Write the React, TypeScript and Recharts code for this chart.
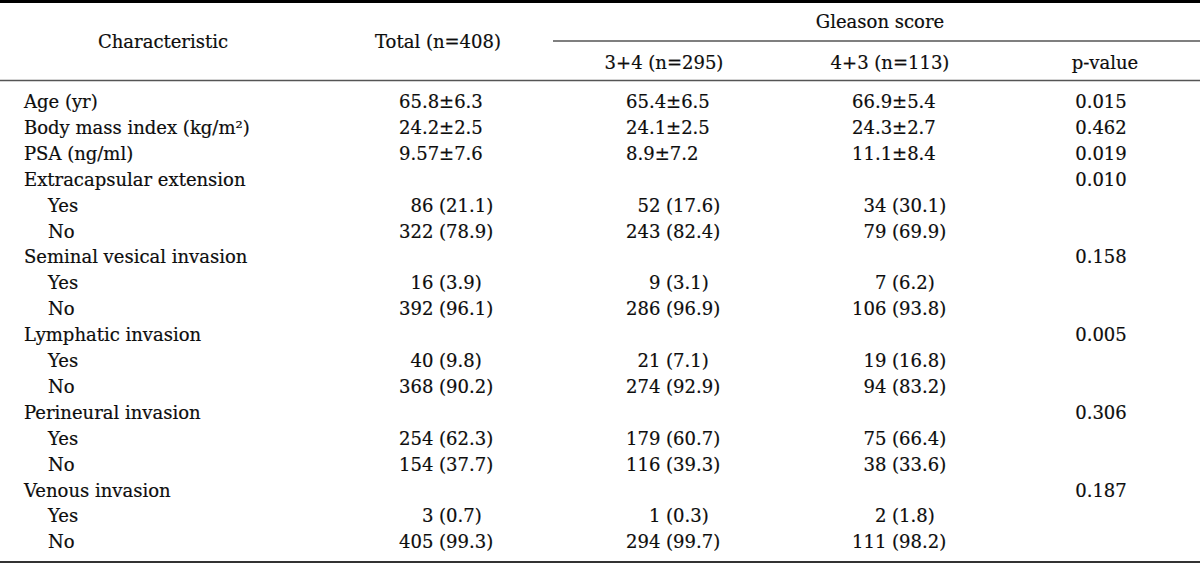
import { ReferenceLine, Scatter, ScatterChart, XAxis, YAxis } from "recharts";

// rows of the table, top to bottom
const rowLabels = [
  "Age (yr)",
  "Body mass index (kg/m²)",
  "PSA (ng/ml)",
  "Extracapsular extension",
  "Yes",
  "No",
  "Seminal vesical invasion",
  "Yes",
  "No",
  "Lymphatic invasion",
  "Yes",
  "No",
  "Perineural invasion",
  "Yes",
  "No",
  "Venous invasion",
  "Yes",
  "No",
];

const totalValues = [
  "65.8±6.3", "24.2±2.5", "9.57±7.6",
  "", "86 (21.1)", "322 (78.9)",
  "", "16 (3.9)", "392 (96.1)",
  "", "40 (9.8)", "368 (90.2)",
  "", "254 (62.3)", "154 (37.7)",
  "", "3 (0.7)", "405 (99.3)",
];

const gleason34Values = [
  "65.4±6.5", "24.1±2.5", "8.9±7.2",
  "", "52 (17.6)", "243 (82.4)",
  "", "9 (3.1)", "286 (96.9)",
  "", "21 (7.1)", "274 (92.9)",
  "", "179 (60.7)", "116 (39.3)",
  "", "1 (0.3)", "294 (99.7)",
];

const gleason43Values = [
  "66.9±5.4", "24.3±2.7", "11.1±8.4",
  "", "34 (30.1)", "79 (69.9)",
  "", "7 (6.2)", "106 (93.8)",
  "", "19 (16.8)", "94 (83.2)",
  "", "75 (66.4)", "38 (33.6)",
  "", "2 (1.8)", "111 (98.2)",
];

const pValues = [
  "0.015", "0.462", "0.019",
  "0.010", "", "",
  "0.158", "", "",
  "0.005", "", "",
  "0.306", "", "",
  "0.187", "", "",
];

const headerTop = ["Characteristic", "Total (n=408)"];
const groupHeader = "Gleason score";
const headerSub = ["3+4 (n=295)", "4+3 (n=113)", "p-value"];

// layout (x in px, y in row units, row 0 = "Age")
const WIDTH = 1200;
const HEIGHT = 563;
const ROW_PITCH = 25.9;
const FIRST_BASELINE = 108;
const Y_DOMAIN = [-FIRST_BASELINE / ROW_PITCH, (HEIGHT - FIRST_BASELINE) / ROW_PITCH];
const pxToRow = (px: number) => (px - FIRST_BASELINE) / ROW_PITCH;

const LABEL_X = 24;
const INDENT_X = 48;
const VALUE_X = [399, 626, 852];
const P_X = 1101;

const FONT = '"DejaVu Serif", serif';
const FONT_SIZE = 18;
const TEXT = "#0d0d0d";
const FIG = "\u2007";

// pad counts to three digits so "(" lines up like the original
const padCount = (s: string) => {
  const m = s.match(/^(\d+) (\(.+\))$/);
  if (!m) return s;
  return FIG.repeat(3 - m[1].length) + m[1] + " " + m[2];
};

type Cell = { x: number; y: number; text: string; anchor: "start" | "middle" | "end" };

const bodyCells: Cell[] = [];
rowLabels.forEach((label, i) => {
  const sub = label === "Yes" || label === "No";
  bodyCells.push({ x: sub ? INDENT_X : LABEL_X, y: i, text: label, anchor: "start" });
  [totalValues, gleason34Values, gleason43Values].forEach((col, c) => {
    if (col[i]) bodyCells.push({ x: VALUE_X[c], y: i, text: padCount(col[i]), anchor: "start" });
  });
  if (pValues[i]) bodyCells.push({ x: P_X, y: i, text: pValues[i], anchor: "middle" });
});

const headerCells: Cell[] = [
  { x: 163, y: pxToRow(48), text: headerTop[0], anchor: "middle" },
  { x: 438, y: pxToRow(48), text: headerTop[1], anchor: "middle" },
  { x: 880, y: pxToRow(27.5), text: groupHeader, anchor: "middle" },
  { x: 664, y: pxToRow(68.5), text: headerSub[0], anchor: "middle" },
  { x: 890, y: pxToRow(68.5), text: headerSub[1], anchor: "middle" },
  { x: 1105, y: pxToRow(68.5), text: headerSub[2], anchor: "middle" },
];

const CellText = (props: any) => {
  const { cx, cy, payload } = props;
  return (
    <text
      x={cx}
      y={cy}
      textAnchor={payload.anchor}
      fontFamily={FONT}
      fontSize={FONT_SIZE}
      fill={TEXT}
      stroke={TEXT}
      strokeWidth={0.2}
      style={{ whiteSpace: "pre" }}
    >
      {payload.text}
    </text>
  );
};

export default function App() {
  return (
    <div style={{ position: "absolute", left: 0, top: 0, background: "#fff" }}>
      <ScatterChart width={WIDTH} height={HEIGHT} margin={{ top: 0, right: 0, bottom: 0, left: 0 }}>
        <XAxis type="number" dataKey="x" domain={[0, WIDTH]} scale="linear" allowDataOverflow hide />
        <YAxis type="number" dataKey="y" domain={Y_DOMAIN} scale="linear" allowDataOverflow reversed hide />

        <ReferenceLine y={pxToRow(1.5)} stroke="#000" strokeWidth={3} ifOverflow="visible" />
        <ReferenceLine
          segment={[
            { x: 553, y: pxToRow(41) },
            { x: WIDTH, y: pxToRow(41) },
          ]}
          stroke="#555"
          strokeWidth={1.5}
          ifOverflow="visible"
        />
        <ReferenceLine y={pxToRow(80.5)} stroke="#555" strokeWidth={1.5} ifOverflow="visible" />
        <ReferenceLine y={pxToRow(562)} stroke="#333" strokeWidth={2} ifOverflow="visible" />

        <Scatter data={headerCells} shape={CellText} isAnimationActive={false} />
        <Scatter data={bodyCells} shape={CellText} isAnimationActive={false} />
      </ScatterChart>
    </div>
  );
}
